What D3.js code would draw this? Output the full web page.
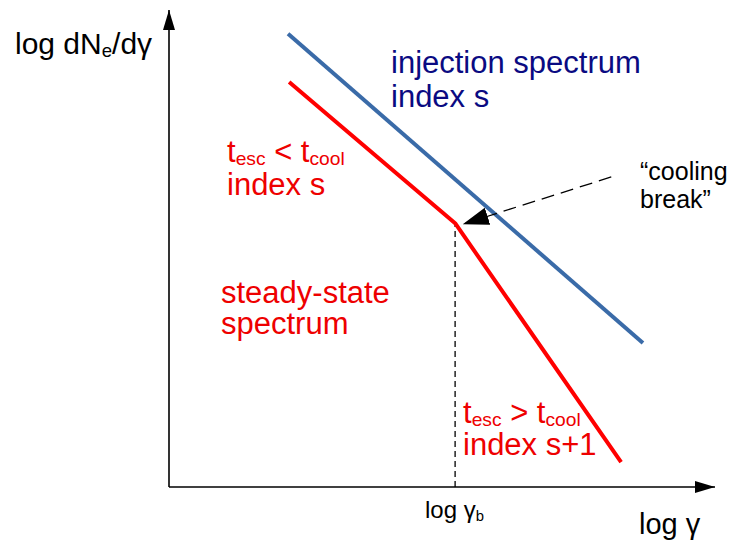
<!DOCTYPE html>
<html>
<head>
<meta charset="utf-8">
<script src="https://cdn.jsdelivr.net/npm/d3@7"></script>
<style>
  body { margin: 0; background: #fff; }
  svg text { font-family: 'Liberation Sans', Arial, sans-serif; }
</style>
</head>
<body>
<div id="chart"></div>
<script>
// schematic values in arbitrary log units
const injection = [
  { x: 2.18, y: 9.5 },
  { x: 8.68, y: 3.02 }
]
const steadyState = [
  { x: 2.2, y: 8.49 },
  { x: 5.24, y: 5.53 },
  { x: 8.28, y: 0.52 }
]
const breakX = 5.24
const arrowFrom = { x: 8.1, y: 6.5 }
const arrowTo = { x: 5.38, y: 5.51 }

let svgWidth = 732,
  svgHeight = 540

let svg = d3
  .select('#chart')
  .append('svg')
  .attr('width', svgWidth)
  .attr('height', svgHeight)

let x = d3.scaleLinear().domain([0, 10]).range([169, 715])
let y = d3.scaleLinear().domain([0, 10]).range([487, 10])

// arrow markers
let defs = svg.append('defs')
defs
  .append('marker')
  .attr('id', 'axisHead')
  .attr('viewBox', '0 0 20 12')
  .attr('refX', 20)
  .attr('refY', 6)
  .attr('markerUnits', 'userSpaceOnUse')
  .attr('markerWidth', 20)
  .attr('markerHeight', 13)
  .attr('orient', 'auto')
  .append('path')
  .attr('d', 'M0,0 L20,6 L0,12 Z')
  .attr('fill', '#000')

defs
  .append('marker')
  .attr('id', 'breakHead')
  .attr('viewBox', '0 0 26 18')
  .attr('refX', 26)
  .attr('refY', 9)
  .attr('markerUnits', 'userSpaceOnUse')
  .attr('markerWidth', 26)
  .attr('markerHeight', 18)
  .attr('orient', 'auto')
  .append('path')
  .attr('d', 'M0,0 L26,9 L0,18 Z')
  .attr('fill', '#000')

// axes
svg
  .append('line')
  .attr('x1', x(0))
  .attr('y1', y(0))
  .attr('x2', x(10))
  .attr('y2', y(0))
  .attr('stroke', '#000')
  .attr('stroke-width', 1.6)
  .attr('marker-end', 'url(#axisHead)')

svg
  .append('line')
  .attr('x1', x(0))
  .attr('y1', y(0))
  .attr('x2', x(0))
  .attr('y2', y(10))
  .attr('stroke', '#000')
  .attr('stroke-width', 1.6)
  .attr('marker-end', 'url(#axisHead)')

// dashed line at the break
svg
  .append('line')
  .attr('x1', x(breakX))
  .attr('y1', y(0))
  .attr('x2', x(breakX))
  .attr('y2', y(steadyState[1].y))
  .attr('stroke', '#000')
  .attr('stroke-width', 1.3)
  .attr('stroke-dasharray', '6,4')

let line = d3
  .line()
  .x((d) => x(d.x))
  .y((d) => y(d.y))

svg
  .append('path')
  .datum(injection)
  .attr('d', line)
  .attr('stroke', '#3a6ba8')
  .style('stroke-width', 4)
  .style('fill', 'none')

svg
  .append('path')
  .datum(steadyState)
  .attr('d', line)
  .attr('stroke', '#ff0000')
  .style('stroke-width', 4)
  .style('stroke-linejoin', 'round')
  .style('fill', 'none')

// cooling break arrow
svg
  .append('line')
  .attr('x1', x(arrowFrom.x))
  .attr('y1', y(arrowFrom.y))
  .attr('x2', x(arrowTo.x))
  .attr('y2', y(arrowTo.y))
  .attr('stroke', '#000')
  .attr('stroke-width', 1.3)
  .attr('stroke-dasharray', '13,7')
  .attr('marker-end', 'url(#breakHead)')

// text helper: parts are [text, isSub]
function label(px, py, parts, size, color) {
  let t = svg
    .append('text')
    .attr('x', px)
    .attr('y', py)
    .attr('font-size', size)
    .attr('fill', color)
  let down = false
  parts.forEach((p) => {
    let dy = 0
    if (p[1] && !down) dy = 3
    if (!p[1] && down) dy = -3
    down = p[1]
    t.append('tspan')
      .attr('font-size', p[1] ? size * 0.62 : size)
      .attr('dy', dy)
      .text(p[0])
  })
  return t
}

label(15, 54, [['log dN', false], ['e', true], ['/dγ', false]], 30, '#000')
label(639, 534, [['log γ', false]], 29, '#000')
label(425, 518, [['log γ', false], ['b', true]], 24, '#000')

label(391, 73, [['injection spectrum', false]], 31, '#0a0a82')
label(391, 107, [['index s', false]], 31, '#0a0a82')

label(227, 162, [['t', false], ['esc', true], [' < t', false], ['cool', true]], 31, '#ee0000')
label(227, 195, [['index s', false]], 31, '#ee0000')

label(221, 303, [['steady-state', false]], 31, '#ee0000')
label(221, 334, [['spectrum', false]], 31, '#ee0000')

label(463, 423, [['t', false], ['esc', true], [' > t', false], ['cool', true]], 31, '#ee0000')
label(463, 455, [['index s+1', false]], 31, '#ee0000')

label(640, 180, [['“cooling', false]], 25, '#000')
label(640, 208, [['break”', false]], 25, '#000')
</script>
</body>
</html>
